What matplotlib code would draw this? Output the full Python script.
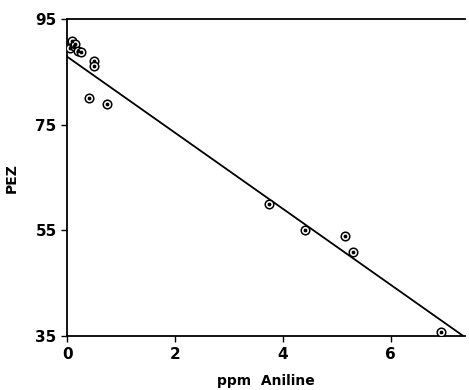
import matplotlib
matplotlib.use("Agg")
import matplotlib.pyplot as plt
import numpy as np

# data
ppm_aniline = [0.05, 0.10, 0.12, 0.15, 0.20, 0.25, 0.50, 0.50, 0.41, 0.74,
               3.74, 4.41, 5.15, 5.29, 6.93]
pez = [89.5, 90.8, 89.9, 90.2, 89.0, 88.7, 87.0, 86.2, 80.0, 78.9,
       60.0, 55.0, 53.9, 50.9, 35.7]
fit_intercept = 87.9
fit_slope = -7.2
fit_x_end = 7.33

x_ticks = [0, 2, 4, 6]
y_ticks = [35, 55, 75, 95]

plt.rcParams["font.family"] = ["DejaVu Sans"]

fig = plt.figure(figsize=(4.69, 3.90), dpi=100)
ax = fig.add_axes([0.143, 0.138, 0.848, 0.813])

fit_x = np.array([0.0, fit_x_end])
ax.plot(fit_x, fit_intercept + fit_slope * fit_x, color="black", linewidth=1.3)

ax.scatter(ppm_aniline, pez, s=38, facecolors="white", edgecolors="black",
           linewidths=1.1, zorder=3)
ax.scatter(ppm_aniline, pez, s=3, color="black", zorder=4)

ax.set_xlim(0, 7.37)
ax.set_ylim(35, 95)
ax.set_xticks(x_ticks)
ax.set_yticks(y_ticks)
ax.tick_params(axis="both", direction="out", length=4, width=1, labelsize=11)
for lab in ax.get_xticklabels() + ax.get_yticklabels():
    lab.set_fontweight("bold")

ax.spines["right"].set_visible(False)
for side in ("left", "bottom", "top"):
    ax.spines[side].set_linewidth(1.3)

ax.set_xlabel("ppm  Aniline", fontsize=10, fontweight="bold", labelpad=9)
ax.set_ylabel("PEZ", fontsize=10, fontweight="bold", labelpad=12)

fig.savefig("out.png", dpi=100)
